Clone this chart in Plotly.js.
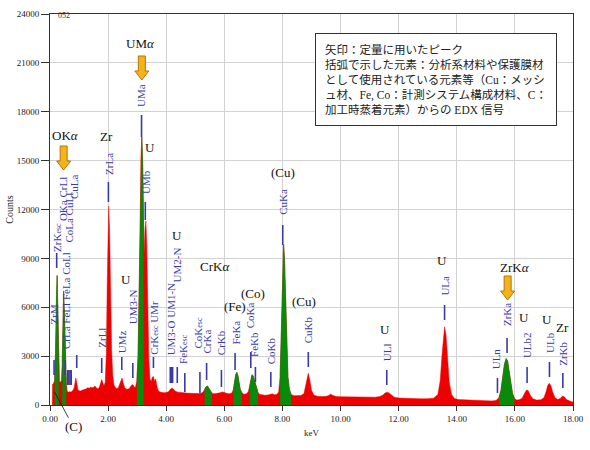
<!DOCTYPE html>
<html><head><meta charset="utf-8">
<script src="https://cdn.plot.ly/plotly-3.0.1.min.js"></script>
<style>body{margin:0;background:#fff}#chart{width:590px;height:450px}</style>
</head><body><div id="chart"></div>
<script>
// Spectrum (keV, counts)
const energy = [0.08,0.09,0.12,0.16,0.19,0.22,0.245,0.27,0.30,0.33,0.36,0.39,0.42,0.45,0.47,0.50,0.53,0.56,0.59,0.63,0.67,0.71,0.75,0.79,0.83,0.86,0.89,0.92,0.96,1.00,1.05,1.10,1.15,1.20,1.25,1.30,1.35,1.40,1.45,1.50,1.55,1.60,1.65,1.70,1.74,1.78,1.82,1.86,1.90,1.94,1.97,2.00,2.02,2.05,2.08,2.12,2.16,2.20,2.25,2.30,2.35,2.40,2.44,2.48,2.52,2.57,2.62,2.67,2.72,2.77,2.82,2.86,2.90,2.94,2.99,3.03,3.07,3.10,3.13,3.16,3.19,3.22,3.24,3.27,3.30,3.33,3.36,3.40,3.44,3.48,3.52,3.56,3.60,3.64,3.68,3.72,3.78,3.85,3.92,4.00,4.08,4.14,4.20,4.26,4.32,4.40,4.50,4.60,4.70,4.80,4.90,5.00,5.10,5.20,5.27,5.32,5.37,5.42,5.47,5.52,5.57,5.64,5.72,5.80,5.88,5.95,6.02,6.10,6.18,6.26,6.31,6.35,6.39,6.43,6.47,6.51,6.55,6.60,6.67,6.75,6.82,6.87,6.91,6.95,6.99,7.03,7.07,7.11,7.16,7.22,7.30,7.40,7.50,7.58,7.65,7.72,7.80,7.87,7.92,7.96,8.00,8.04,8.07,8.11,8.15,8.19,8.24,8.30,8.40,8.52,8.64,8.74,8.80,8.85,8.89,8.94,9.00,9.08,9.20,9.35,9.50,9.60,9.66,9.72,9.85,10.0,10.25,10.5,10.75,11.0,11.2,11.35,11.45,11.53,11.6,11.67,11.75,11.85,12.0,12.25,12.5,12.75,13.0,13.2,13.35,13.43,13.49,13.54,13.58,13.63,13.68,13.74,13.82,13.92,14.05,14.25,14.5,14.75,15.0,15.2,15.35,15.45,15.52,15.58,15.64,15.70,15.75,15.80,15.86,15.92,15.98,16.06,16.15,16.25,16.33,16.40,16.46,16.53,16.62,16.75,16.9,17.0,17.07,17.13,17.18,17.24,17.30,17.38,17.48,17.57,17.64,17.70,17.78,17.88,17.95,18.0];
const counts = [0,1280,1330,1500,3200,6600,7950,5800,2300,1450,1400,1500,2600,6100,7000,5400,2900,1500,850,780,820,800,830,900,1050,1350,1650,1380,950,880,860,900,920,960,1000,1060,1030,1100,1060,1090,1160,1050,1000,1100,1350,1560,1350,1180,1400,3200,7500,11300,12200,10800,7000,3400,1800,1250,1080,1000,1060,1250,1500,1650,1350,1080,980,960,1000,1100,1250,1230,1100,1080,1500,3000,6800,11000,15200,16450,14800,10500,9300,10800,11300,9800,6200,2800,1600,1450,1700,1750,1450,1600,1150,900,800,770,750,760,820,960,1050,950,840,790,760,740,730,720,700,690,700,720,800,950,1120,1170,1060,880,740,690,700,710,760,800,740,700,690,740,950,1400,1850,2000,1800,1350,950,760,660,680,800,1150,1600,1850,1800,1550,1250,950,760,650,620,600,610,630,690,630,640,800,1800,4200,7800,9850,9000,6200,3300,1700,950,650,570,560,580,700,1200,1750,1950,1550,900,620,540,520,530,590,680,600,520,510,500,490,480,470,480,520,600,730,790,740,600,480,430,400,390,380,390,420,650,1500,3000,4400,4800,4300,2900,1400,650,400,330,310,300,280,260,250,280,450,900,1700,2500,2850,2700,2100,1300,700,420,310,320,420,700,920,880,600,380,300,320,450,800,1200,1330,1200,800,450,330,420,550,500,330,230,200,190];

// Energy windows of identified peaks (drawn green)
const greenLo = [0.16,0.42,2.99,5.30,6.31,6.85,7.90,15.45];
const greenHi = [0.30,0.56,3.22,5.57,6.60,7.16,8.30,15.98];

// Blue peak-identification labels
const blueText = ["ZrM","ZrK<span style='font-size:8px'>esc</span>","OKa CrLl","CoLa CuLl","CuLa","CrLa FeLl FeLa CoLl","ZrLl","ZrLa","UMz","UM3-N","UMa","UMb","CrK<span style='font-size:8px'>esc</span> UMr","UM3-O UM1-N","UM2-N","FeK<span style='font-size:8px'>esc</span>","CoK<span style='font-size:8px'>esc</span>","CrKa","CrKb","FeKa","CoKa","FeKb","CoKb","CuKa","CuKb","ULl","ULa","ULn","ZrKa","ULb2","ULb","ZrKb"];
const blueE = [0.12,0.22,0.45,0.64,0.83,0.55,1.78,2.01,2.47,2.85,3.13,3.30,3.55,4.16,4.37,4.56,5.11,5.37,5.89,6.37,6.91,7.02,7.60,8.01,8.89,11.59,13.58,15.36,15.73,16.42,17.19,17.65];
const blueC = [5586,10281,12644,11478,13381,6445,4112,14823,3898,6046,19028,13688,4757,5248,8624,3468,4419,3898,3806,4450,5494,3744,3345,12460,4604,3222,7304,2823,5524,3683,3836,3130];

// Blue marker lines (keV, low count, high count)
const lineE  = [0.14,0.23,0.52,0.61,0.65,0.69,0.73,0.92,1.78,2.01,2.47,2.85,3.15,3.28,3.56,4.14,4.18,4.22,4.38,4.64,5.16,5.39,5.90,6.37,6.91,7.07,7.60,8.01,8.89,11.59,13.58,15.40,15.73,16.42,17.19,17.65];
const lineLo = [1841,8409,1841,1228,1228,1228,1228,2271,1964,12460,2148,1657,16450,11355,2271,1350,1350,1350,1350,798,737,1535,1105,2148,2271,1412,1105,9821,2332,1228,5217,737,3192,1350,1719,1043];
const lineHi = [2762,9330,2762,2148,2148,2148,2148,3069,2885,13688,2946,2578,17800,12460,2946,2332,2332,2332,2332,1964,2025,2578,2148,3192,3253,2332,2025,11048,3253,2148,6138,1657,4112,2332,2639,1964];

// Black element labels
const blackText = ["OK<i>α</i>","UM<i>α</i>","Zr","U","U","U","CrK<i>α</i>","(Fe)","(Co)","(Cu)","(Cu)","U","U","ZrK<i>α</i>","U","U","Zr"];
const blackE = [0.52,3.12,1.93,3.45,2.62,4.37,5.67,6.35,6.97,8.01,8.75,11.54,13.49,16.01,16.33,17.12,17.63];
const blackC = [16573,22200,16468,15818,7715,10435,8489,6077,6856,14283,6340,4604,8900,8428,5358,5279,4769];

// Quantification arrows (tip position)
const arrowE = [0.47,3.16,15.75];
const arrowC = [14425,19950,6445];

const noteLines = ["矢印：定量に用いたピーク","括弧で示した元素：分析系材料や保護膜材","として使用されている元素等（Cu：メッシ","ュ材、Fe, Co：計測システム構成材料、C：","加工時蒸着元素）からの EDX 信号"];

const serif = "'Liberation Serif', 'Times New Roman', serif";
const blue = "#3a3aa6";

const traces = [{
  x: energy, y: counts, type: 'scatter', mode: 'lines', fill: 'tozeroy',
  line: {color: '#ee0000', width: 0.5}, fillcolor: '#ee0000', hoverinfo: 'skip'
}];
for (let k = 0; k < greenLo.length; k++) {
  const gx = [], gy = [];
  for (let i = 0; i < energy.length; i++) {
    if (energy[i] >= greenLo[k] && energy[i] <= greenHi[k]) { gx.push(energy[i]); gy.push(counts[i]); }
  }
  traces.push({x: gx, y: gy, type: 'scatter', mode: 'lines', fill: 'tozeroy',
    line: {color: '#0a8a0a', width: 0.5}, fillcolor: '#0a8a0a', hoverinfo: 'skip'});
}
const lx = [], ly = [];
for (let i = 0; i < lineE.length; i++) { lx.push(lineE[i], lineE[i], null); ly.push(lineLo[i], lineHi[i], null); }
traces.push({x: lx, y: ly, type: 'scatter', mode: 'lines', line: {color: blue, width: 1.6}, hoverinfo: 'skip'});

const annotations = [];
for (let i = 0; i < blueText.length; i++) {
  annotations.push({x: blueE[i], y: blueC[i], xref: 'x', yref: 'y', text: blueText[i], textangle: -90,
    showarrow: false, font: {family: serif, size: 11, color: blue}});
}
for (let i = 0; i < blackText.length; i++) {
  annotations.push({x: blackE[i], y: blackC[i], xref: 'x', yref: 'y', text: blackText[i],
    showarrow: false, font: {family: serif, size: 13, color: '#111'}});
}
annotations.push({x: 0.15, y: 816, xref: 'x', yref: 'y', text: '(C)', showarrow: true, arrowhead: 0,
  arrowwidth: 0.8, arrowcolor: '#111', ax: 19, ay: 35, font: {family: serif, size: 13, color: '#111'}});
annotations.push({x: 0.0115, y: 1.012, xref: 'paper', yref: 'paper', text: '052', showarrow: false,
  font: {family: serif, size: 8, color: '#333'}});
annotations.push({x: 0.507, y: 0.951, xref: 'paper', yref: 'paper', xanchor: 'left', yanchor: 'top', align: 'left',
  text: noteLines.join('<br>'), showarrow: false, bgcolor: '#fff', bordercolor: '#333', borderwidth: 1, borderpad: 9,
  font: {family: "'Liberation Serif', 'Noto Sans CJK JP'", size: 11.5, color: '#222'}});

const shapes = [];
for (let i = 0; i < arrowE.length; i++) {
  shapes.push({type: 'path', xref: 'x', yref: 'y', xsizemode: 'pixel', ysizemode: 'pixel',
    xanchor: arrowE[i], yanchor: arrowC[i],
    path: 'M0,0 L-7,9 L-3.5,9 L-3.5,24 L3.5,24 L3.5,9 L7,9 Z',
    fillcolor: '#f5b21a', line: {color: '#b07800', width: 1}});
}

const layout = {
  width: 590, height: 450, margin: {l: 50, r: 17, t: 14, b: 45},
  paper_bgcolor: '#fff', plot_bgcolor: '#fff', showlegend: false,
  xaxis: {range: [0, 18], tick0: 0, dtick: 2, tickformat: '.2f', ticks: 'outside', ticklen: 5, tickcolor: '#333',
    showgrid: true, gridcolor: '#d2d2d2', zeroline: false, showline: true, mirror: true, linecolor: '#333', linewidth: 1,
    tickfont: {family: serif, size: 9, color: '#222'},
    title: {text: 'keV', font: {family: serif, size: 9, color: '#222'}, standoff: 6}},
  yaxis: {range: [0, 24000], tick0: 0, dtick: 3000, tickformat: 'd', ticks: 'outside', ticklen: 8, tickcolor: '#333',
    showgrid: true, gridcolor: '#d2d2d2', zeroline: false, showline: true, mirror: true, linecolor: '#333', linewidth: 1,
    tickfont: {family: serif, size: 9, color: '#222'},
    title: {text: 'Counts', font: {family: serif, size: 10, color: '#222'}}},
  annotations: annotations, shapes: shapes
};
Plotly.newPlot('chart', traces, layout, {staticPlot: true, displayModeBar: false});
</script></body></html>
